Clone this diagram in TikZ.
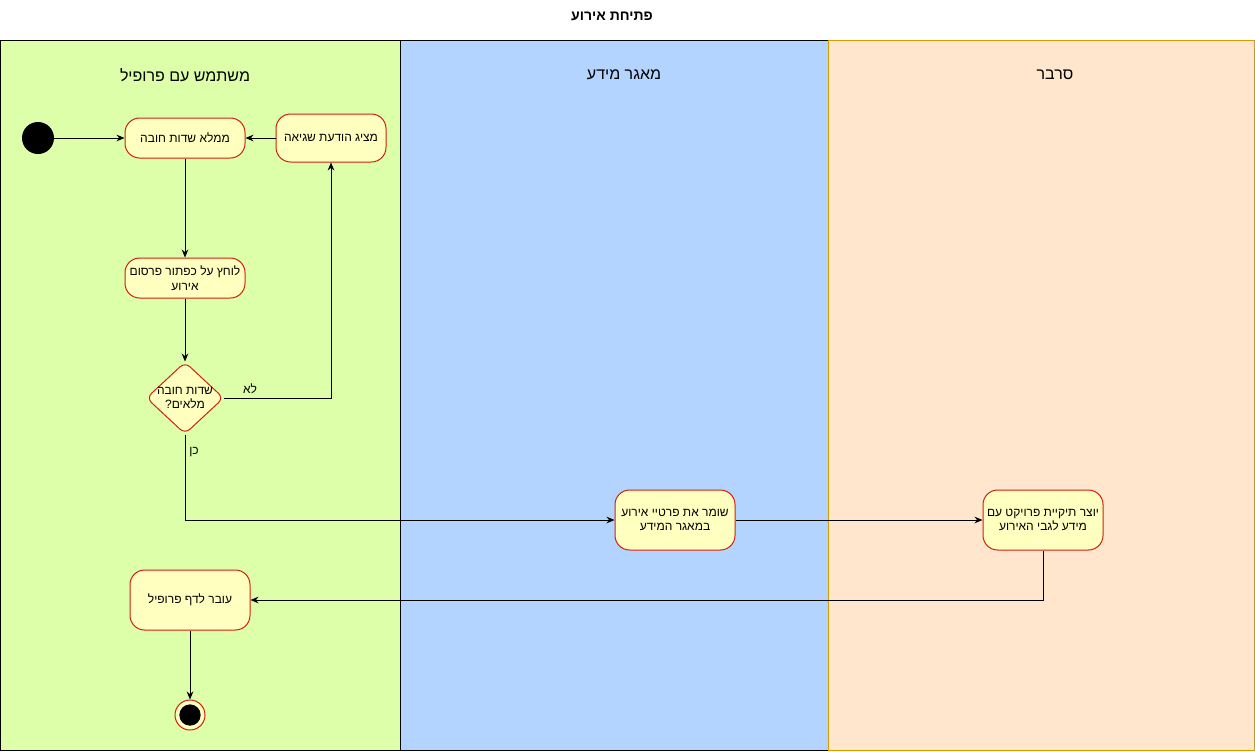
\documentclass[tikz,border=0pt]{standalone}
\usepackage{fontspec}
\setmainfont{Liberation Sans}
\newfontfamily\hebfont[Script=Hebrew]{Liberation Sans}
\TeXXeTstate=1
\usetikzlibrary{shapes.geometric,arrows.meta}
\newcommand{\heb}[1]{{\hebfont\beginR #1\endR}}
\definecolor{laneGreen}{HTML}{DDFFAA}
\definecolor{laneBlue}{HTML}{B3D4FF}
\definecolor{laneOrange}{HTML}{FFE6CC}
\definecolor{laneOrangeLine}{HTML}{D79B00}
\definecolor{actFill}{HTML}{FFFFC0}
\definecolor{actLine}{HTML}{D21F0F}
\begin{document}
\begin{tikzpicture}[x=0.75pt,y=-0.75pt,
  act/.style={draw=actLine, fill=actFill, line width=0.75pt, rounded corners=11pt,
    minimum width=90pt, minimum height=30pt, inner sep=2pt, align=center,
    font=\fontsize{9}{11}\selectfont},
  decision/.style={draw=actLine, fill=actFill, line width=0.75pt, diamond,
    rounded corners=5pt, minimum width=58pt, minimum height=54pt, inner sep=0pt},
  plaintext/.style={align=center, font=\fontsize{9}{11}\selectfont, inner sep=0pt},
  lanetitle/.style={font=\fontsize{12}{14}\selectfont},
  edgelabel/.style={font=\fontsize{9}{11}\selectfont},
  flow/.style={line width=0.75pt, -{Stealth[length=6pt,width=5pt]}},
  startdot/.style={circle, fill=black, minimum size=24pt, inner sep=0pt},
]
\useasboundingbox (0,0) rectangle (1255,751);
\fill[white] (0,0) rectangle (1255,751);

% lanes
\draw[fill=laneGreen, line width=0.75pt] (0.5,40) rectangle (400,750);
\draw[fill=laneBlue, line width=0.75pt] (400,40) rectangle (828,750);
\draw[fill=laneOrange, draw=laneOrangeLine, line width=0.75pt] (828,40) rectangle (1254.5,750);
\draw[line width=0.75pt] (400,40) -- (400,750);
\draw[line width=0.75pt] (0.5,40) -- (400,40);

% titles
\node[font=\fontsize{10.5}{12}\selectfont\bfseries] (title) at (612,16) {\heb{פתיחת אירוע}};
\node[lanetitle] (t1) at (185,75) {\heb{משתמש עם פרופיל}};
\node[lanetitle] (t2) at (624,75) {\heb{מאגר מידע}};
\node[lanetitle] (t3) at (1055,75) {\heb{סרבר}};

% nodes
\node[startdot] (start) at (38,138) {};
\node[act] (fill) at (185,138) {\heb{ממלא שדות חובה}};
\node[act, minimum width=82.5pt, minimum height=36pt] (err) at (331,138) {\heb{מציג הודעת שגיאה}};
\node[act] (press) at (185,278) {\heb{לוחץ על כפתור פרסום}\\\heb{אירוע}};
\node[decision] (dia) at (185,398) {};
\node[plaintext] (dialbl) at (dia.center) {\heb{שדות חובה}\\\heb{מלאים?}};
\node[act, minimum height=45pt] (save) at (675,520) {\heb{שומר את פרטיי אירוע}\\\heb{במאגר המידע}};
\node[act, minimum height=45pt] (srv) at (1043,520) {\heb{יוצר תיקיית פרויקט עם}\\\heb{מידע לגבי האירוע}};
\node[act, minimum height=45pt] (prof) at (190,600) {\heb{עובר לדף פרופיל}};
\node[circle, draw=actLine, fill=actFill, line width=0.75pt, minimum size=22.5pt, inner sep=0pt] (end) at (190,715) {};
\node[circle, fill=black, minimum size=16pt, inner sep=0pt] (endin) at (end) {};

% edges
\draw[flow] (start) -- (fill);
\draw[flow] (err) -- (fill);
\draw[flow] (fill) -- (press);
\draw[flow] (press) -- (dia);
\draw[flow] (dia.east) -- (err.south |- dia.east) -- (err.south);
\node[edgelabel] (nolbl) at (250,389) {\heb{לא}};
\draw[flow] (dia.south) -- (dia.south |- save.west) -- (save.west);
\node[edgelabel] (yeslbl) at (194,452) {\heb{כן}};
\draw[flow] (save) -- (srv);
\draw[flow] (srv.south) -- (srv.south |- prof.east) -- (prof.east);
\draw[flow] (prof) -- (end);
\end{tikzpicture}
\end{document}
